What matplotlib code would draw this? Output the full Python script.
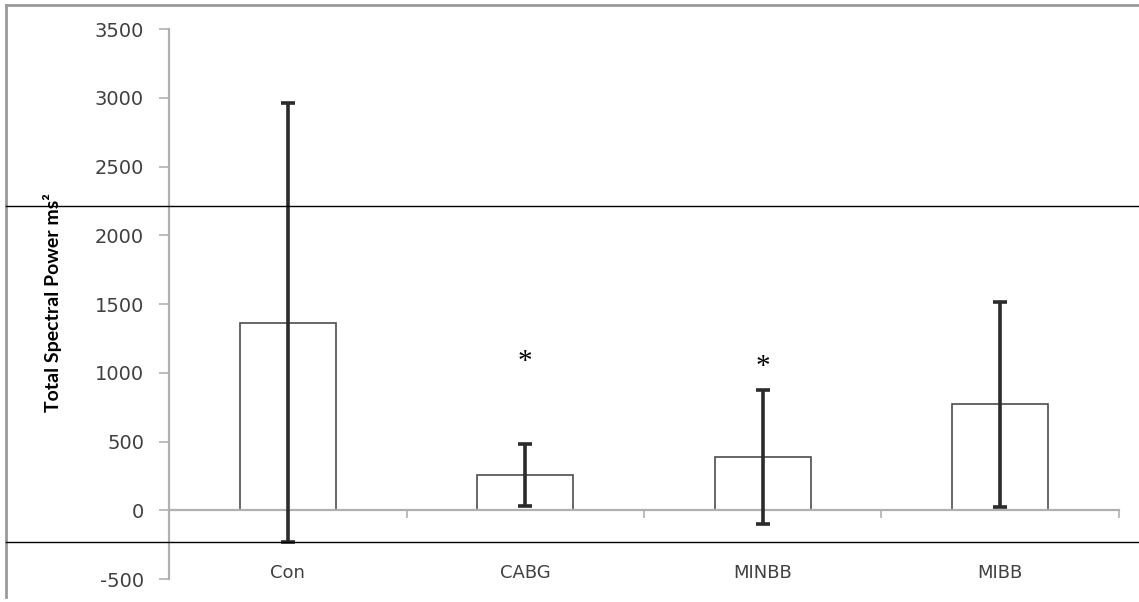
import matplotlib
matplotlib.use('Agg')
import matplotlib.pyplot as plt
from matplotlib.lines import Line2D
import numpy as np

# Data
groups = ['Con', 'CABG', 'MINBB', 'MIBB']
means = [1365, 258, 388, 772]
errors = [1597, 225, 487, 745]
starred = ['CABG', 'MINBB']
star_y = [1075, 1040]
y_ticks = [-500, 0, 500, 1000, 1500, 2000, 2500, 3000, 3500]

fig = plt.figure(figsize=(11.39, 6.02), dpi=100)
ax = fig.add_axes([0.1484, 0.0382, 0.8340, 0.9136])

x = np.arange(len(groups))
ax.bar(x, means, width=0.405, color='white', edgecolor='#4d4d4d', linewidth=1.2, zorder=2)
ax.errorbar(x, means, yerr=errors, fmt='none', ecolor='#2b2b2b', elinewidth=2.6,
            capsize=5, capthick=2.6, zorder=3)

# significance markers
for g, sy in zip(starred, star_y):
    ax.text(groups.index(g), sy, '*', ha='center', va='center', fontsize=21,
            family='Liberation Serif', color='black')

ax.set_xlim(-0.5, len(groups) - 0.5)
ax.set_ylim(-500, 3500)
ax.set_yticks(y_ticks)
ax.set_yticklabels([str(v) for v in y_ticks])

# x axis sits at zero, labels placed low like Excel
ax.spines['top'].set_visible(False)
ax.spines['right'].set_visible(False)
ax.spines['bottom'].set_position(('data', 0))
for s in ['left', 'bottom']:
    ax.spines[s].set_color('#b0b0b0')
    ax.spines[s].set_linewidth(1.6)
ax.set_xticks(x)
ax.set_xticklabels([])
ax.tick_params(axis='x', which='major', length=0)
ax.set_xticks(np.arange(0.5, len(groups), 1.0), minor=True)
ax.tick_params(axis='x', which='minor', direction='out', length=6, width=1.2, color='#b0b0b0')
for i, g in enumerate(groups):
    ax.text(i, -455, g, ha='center', va='center', fontsize=13, color='#404040')

ax.tick_params(axis='y', direction='out', length=7, width=1.2, color='#b0b0b0',
               labelsize=14, labelcolor='#404040', pad=11)
ax.set_ylabel('Total Spectral Power ms²', fontsize=14, fontweight='bold',
              family=['Lato', 'DejaVu Sans'])
ax.yaxis.set_label_coords(-0.113, 0.503)

# page border and stray lines from the scan
fig.add_artist(Line2D([0.005, 0.005], [0.008, 0.992], color='#9a9a9a', lw=2))
fig.add_artist(Line2D([0.005, 1.0], [0.992, 0.992], color='#9a9a9a', lw=2))
fig.add_artist(Line2D([0.005, 1.0], [0.658, 0.658], color='black', lw=1))
fig.add_artist(Line2D([0.005, 1.0], [0.0997, 0.0997], color='black', lw=1))

fig.savefig('out.png', dpi=100, facecolor='white')
